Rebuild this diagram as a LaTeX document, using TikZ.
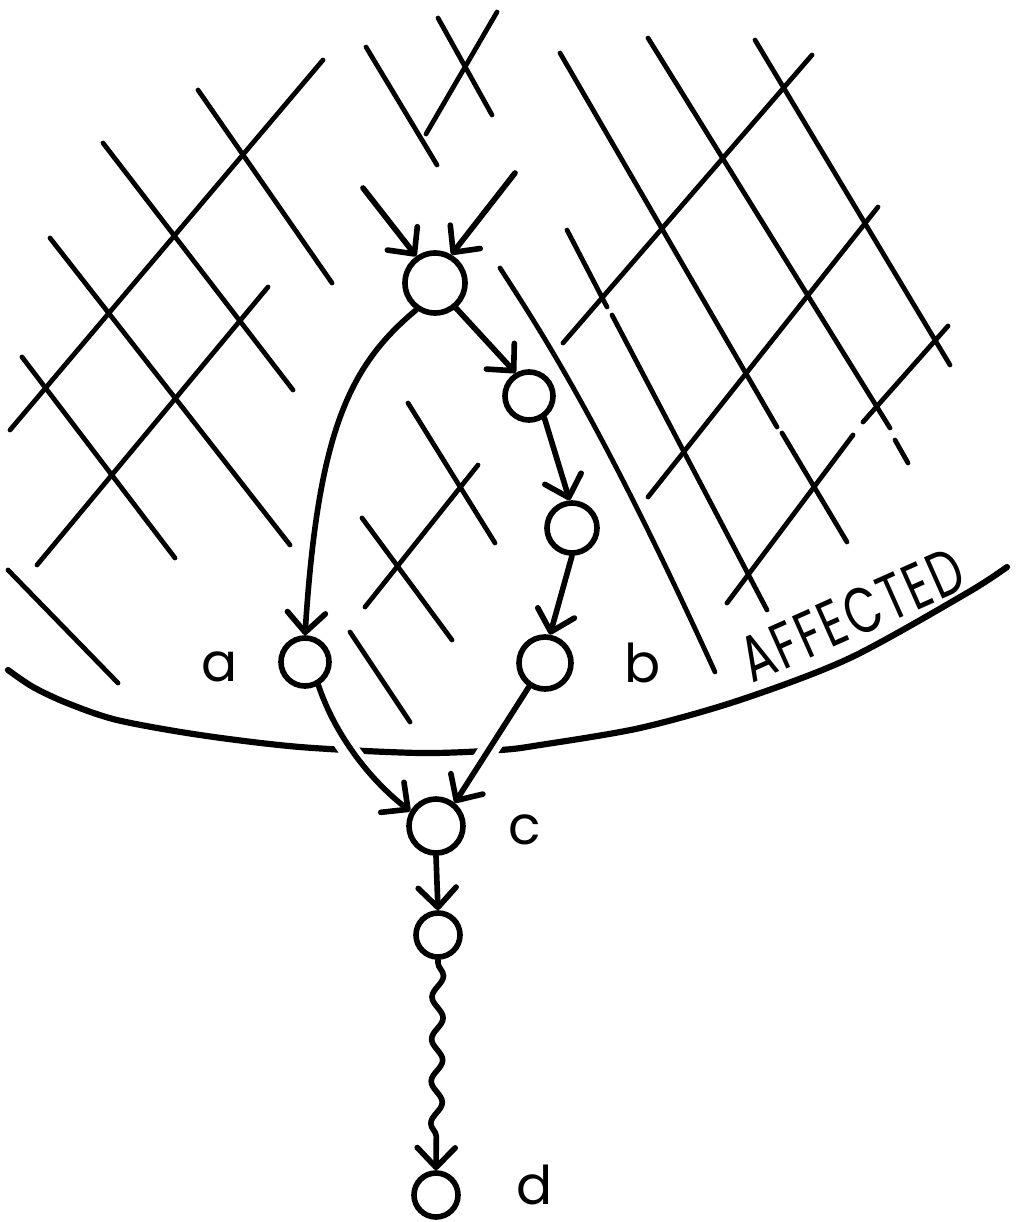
\documentclass[tikz,border=0pt]{standalone}
\usepackage{fontspec}
\setmainfont{Poppins}
\newfontfamily\handcaps[FakeStretch=0.72,LetterSpace=4]{Poppins}
\usetikzlibrary{arrows.meta,decorations.pathmorphing}
\begin{document}
\begin{tikzpicture}[x=0.025cm,y=-0.025cm,
  hatch/.style={line width=3.4pt, line cap=round},
  bound/.style={line width=4.4pt, line cap=round},
  vtx/.style={circle, draw, line width=4pt, inner sep=0pt, minimum size=#1},
  arr/.style={line width=4pt, line cap=round, -{Straight Barb[round,length=14pt,width=27pt]}},
  halo/.style={preaction={draw, white, line width=14pt, -, shorten <=22pt, shorten >=22pt}},
  lab/.style={font=\fontsize{38}{42}\selectfont, inner sep=0pt},
]
\useasboundingbox (0,0) rectangle (1017,1222);

% ---- hatching, left region
\draw[hatch] (323,60) -- (10,430);
\draw[hatch] (198,90) -- (332,283);
\draw[hatch] (103,143) -- (293,390);
\draw[hatch] (50,238) -- (290,545);
\draw[hatch] (268,287) -- (37,565);
\draw[hatch] (22,357) -- (175,558);
\draw[hatch] (8,570) -- (118,683);
% ---- hatching, top
\draw[hatch] (366,47) -- (437,165);
\draw[hatch] (497,12) -- (426,134);
\draw[hatch] (438,18) -- (492,115);
% ---- hatching, middle
\draw[hatch] (408,403) -- (495,543);
\draw[hatch] (478,465) -- (365,607);
\draw[hatch] (362,518) -- (452,640);
\draw[hatch] (350,632) -- (410,722);
% ---- hatching, right region
\draw[hatch] (560,53) -- (777,427);
\draw[hatch] (782,433) -- (847,542);
\draw[hatch] (648,38) -- (890,428);
\draw[hatch] (895,440) -- (908,463);
\draw[hatch] (755,40) -- (950,365);
\draw[hatch] (567,230) -- (607,307);
\draw[hatch] (612,315) -- (767,610);
\draw[hatch] (500,268) .. controls (540,330) and (600,420) .. (715,672);
\draw[hatch] (812,55) -- (563,343);
\draw[hatch] (878,207) -- (648,497);
\draw[hatch] (948,326) -- (863,422);
\draw[hatch] (853,435) -- (727,603);

% ---- boundary of the affected region
\draw[bound] plot[smooth, tension=0.5] coordinates {(8,670) (33,687) (67,703) (117,720) (200,735) (300,747) (420,753) (500,750) (540,745) (640,728) (740,700) (850,658) (967,593) (1007,567)};
\node[rotate=24, anchor=base west, inner sep=0pt, font=\handcaps\fontsize{46}{50}\selectfont] (aff) at (752,684) {AFFECTED};

% ---- nodes
\node[vtx=1.5cm]  (top) at (435,283) {};
\node[vtx=1.2cm]  (n2)  at (529,396) {};
\node[vtx=1.25cm] (n3)  at (572,528) {};
\node[vtx=1.2cm]  (a)   at (305,662) {};
\node[vtx=1.3cm]  (b)   at (545,663) {};
\node[vtx=1.35cm] (c)   at (436,826) {};
\node[vtx=1.1cm]  (n7)  at (438,935) {};
\node[vtx=1.1cm]  (d)   at (436,1195) {};

\node[lab] (la) at (220,667) {a};
\node[lab] (lb) at (643,663) {b};
\node[lab] (lc) at (525,830) {c};
\node[lab] (ld) at (535,1185) {d};

% ---- incoming arrows at the top
\coordinate (in1) at (363,188);
\coordinate (in2) at (515,173);
\draw[arr] (in1) -- (top.125);
\draw[arr] (in2) -- (top.60);

% ---- connectors
\draw[arr] (top.235) .. controls (350,365) and (318,430) .. (a.north);
\draw[arr] (top.-50) -- (n2.120);
\draw[arr] (n2.-55) -- (n3.95);
\draw[arr] (n3.south) -- (b.80);
\draw[arr, halo] (a.-60) .. controls (335,735) and (370,780) .. (c.150);
\draw[arr, halo] (b.236) -- (c.51);
\draw[arr] (c.south) -- (n7.north);
\draw[arr, decorate, decoration={snake, amplitude=4pt, segment length=30pt, pre length=2pt, post length=10pt}] (n7.south) -- (d.north);
\end{tikzpicture}
\end{document}
